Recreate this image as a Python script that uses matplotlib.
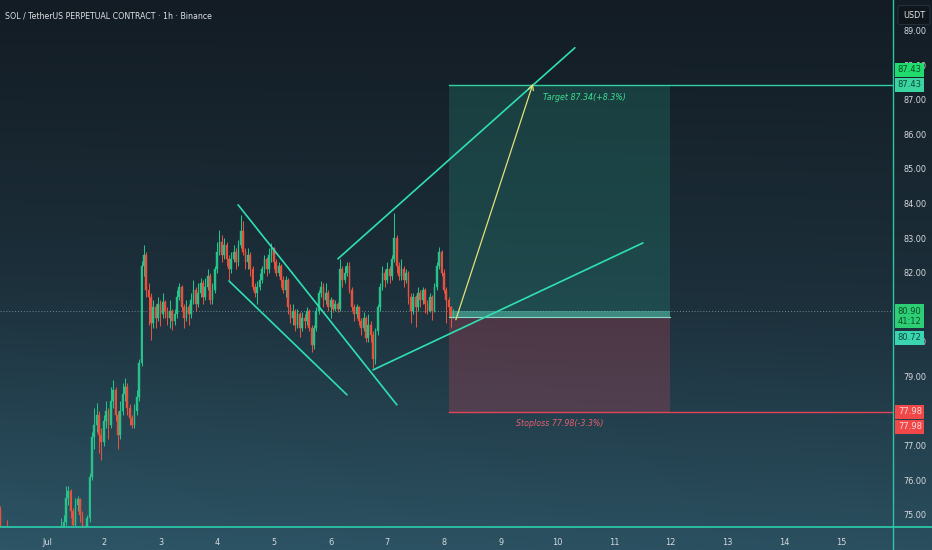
import numpy as np
import matplotlib
matplotlib.use('Agg')
import matplotlib.pyplot as plt
from matplotlib.colors import LinearSegmentedColormap
from matplotlib.lines import Line2D
from matplotlib import font_manager

# ---------------- data ----------------
title = "SOL / TetherUS PERPETUAL CONTRACT · 1h · Binance"
start_hour = -20          # first candle: hours relative to Jul 1 00:00
first_open = 75.15
closes = [74.3, 74.1, 74.35, 74.2, 73.9, 73.7, 73.95, 73.6, 73.4, 73.7,
          73.5, 73.3, 73.6, 73.8, 73.6, 73.9, 74.1, 73.8, 74.0, 74.2,
          73.9, 74.1, 74.3, 74.0, 74.2, 74.4, 74.5, 74.8, 75.5, 75.7,
          75.1, 74.7, 75.3, 75.45, 75.0, 74.6, 74.4, 74.9, 76.1, 77.25,
          77.6, 77.9, 77.3, 77.1, 77.7, 78.0, 77.6, 78.3, 78.6, 77.9,
          77.3, 78.0, 78.5, 78.7, 78.1, 77.8, 77.6, 78.0, 78.4, 79.4,
          82.2, 82.5, 81.5, 81.3, 80.55, 81.0, 80.7, 81.1, 80.8, 81.15,
          80.9, 80.7, 80.9, 80.6, 80.8, 81.3, 81.6, 81.0, 80.7, 81.0,
          80.8, 81.2, 81.5, 81.1, 81.4, 81.7, 81.3, 81.6, 81.9, 81.2,
          81.5, 82.1, 82.6, 82.9, 82.5, 82.8, 82.4, 82.1, 82.4, 82.6,
          82.3, 82.8, 83.2, 82.6, 82.3, 82.5, 82.1, 81.6, 81.4, 81.6,
          81.8, 82.1, 82.4, 82.1, 82.5, 82.7, 82.3, 82.0, 82.2, 81.8,
          81.5, 81.8, 81.0, 80.7, 80.9, 80.5, 80.8, 80.4, 80.7, 80.6,
          80.9, 80.4, 79.9, 80.4, 80.9, 81.4, 81.6, 81.2, 81.4, 81.0,
          81.2, 80.95, 81.1, 80.95, 82.1, 81.8, 82.0, 82.2, 81.5, 81.0,
          80.8, 81.0, 80.6, 80.4, 80.7, 80.1, 80.5, 80.2, 79.5, 80.3,
          81.0, 81.6, 82.0, 81.8, 82.1, 81.9, 82.4, 83.0, 82.2, 81.9,
          82.1, 81.8, 82.0, 81.3, 80.9, 81.3, 81.0, 81.4, 81.2, 81.5,
          81.1, 80.9, 81.3, 80.9, 81.6, 82.2, 82.6, 82.0, 81.5, 81.2,
          81.0, 80.72, 80.9]
highs = [75.25, 74.45, 74.5, 74.85, 74.3, 74.0, 74.1, 74.0, 73.7, 73.8,
         73.8, 73.6, 73.75, 74.0, 73.9, 74.1, 74.3, 74.2, 74.2, 74.4,
         74.3, 74.3, 74.5, 74.4, 74.45, 74.55, 74.9, 75.0, 75.84, 75.84,
         75.75, 75.2, 75.5, 75.55, 75.5, 75.1, 74.7, 75.0, 76.2, 77.4,
         78.1, 78.24, 78.0, 77.5, 77.9, 78.3, 78.1, 78.7, 78.9, 78.7,
         78.0, 78.3, 78.8, 78.95, 78.8, 78.2, 77.9, 78.2, 78.6, 79.5,
         82.35, 82.8, 82.6, 81.7, 81.4, 81.2, 81.1, 81.3, 81.2, 81.4,
         81.2, 81.0, 81.2, 80.95, 80.95, 81.5, 81.7, 81.65, 81.1, 81.2,
         81.1, 81.4, 81.8, 81.6, 81.7, 81.85, 81.8, 81.85, 82.1, 82.0,
         81.7, 82.2, 82.9, 83.24, 83.1, 83.0, 82.9, 82.5, 82.6, 82.8,
         82.7, 82.95, 83.67, 83.5, 82.7, 82.7, 82.6, 82.2, 81.7, 81.75,
         82.0, 82.2, 82.5, 82.45, 82.7, 82.85, 82.75, 82.4, 82.3, 82.25,
         81.9, 81.9, 81.85, 81.1, 81.1, 80.95, 80.95, 80.85, 80.85, 80.8,
         81.0, 80.95, 80.5, 80.5, 81.0, 81.5, 81.75, 81.7, 81.7, 81.5,
         81.3, 81.25, 81.2, 81.15, 82.4, 82.2, 82.2, 82.3, 82.3, 81.6,
         81.1, 81.1, 81.05, 80.7, 80.85, 80.75, 80.8, 80.6, 80.3, 80.4,
         81.1, 81.7, 82.2, 82.1, 82.3, 82.2, 82.5, 83.73, 83.1, 82.3,
         82.4, 82.2, 82.1, 82.05, 81.4, 81.4, 81.35, 81.6, 81.5, 81.6,
         81.55, 81.2, 81.4, 81.35, 81.7, 82.3, 82.75, 82.65, 82.1, 81.6,
         81.3, 81.05, 80.95]
lows = [74.1, 73.9, 74.0, 74.0, 73.7, 73.5, 73.6, 73.4, 73.2, 73.3,
        73.3, 73.1, 73.2, 73.5, 73.4, 73.5, 73.8, 73.6, 73.7, 73.9,
        73.7, 73.8, 74.0, 73.8, 73.9, 74.1, 74.2, 74.4, 74.7, 75.3,
        74.9, 74.5, 74.6, 75.1, 74.8, 74.4, 74.2, 74.3, 74.8, 76.0,
        76.9, 77.4, 76.8, 76.6, 77.0, 77.5, 77.2, 77.5, 78.1, 77.7,
        76.9, 77.2, 77.9, 78.3, 77.9, 77.6, 77.5, 77.5, 77.9, 78.3,
        79.3, 81.9, 81.3, 80.5, 80.06, 80.4, 80.4, 80.6, 80.45, 80.7,
        80.7, 80.5, 80.4, 80.35, 80.5, 80.7, 81.2, 80.9, 80.4, 80.6,
        80.5, 80.7, 81.1, 80.9, 81.0, 81.3, 81.1, 81.2, 81.5, 81.1,
        81.1, 81.4, 82.0, 82.5, 82.3, 82.4, 82.2, 81.8, 82.0, 82.3,
        82.1, 82.2, 82.7, 82.5, 82.1, 82.1, 81.9, 81.5, 81.3, 81.1,
        81.5, 81.7, 82.0, 81.9, 82.0, 82.3, 82.1, 81.9, 81.9, 81.6,
        81.4, 81.3, 80.8, 80.55, 80.5, 80.3, 80.4, 80.14, 80.3, 80.4,
        80.5, 80.3, 79.7, 79.8, 80.3, 80.8, 81.3, 81.0, 81.1, 80.9,
        80.7, 80.85, 80.9, 80.85, 80.9, 81.6, 81.7, 81.9, 81.4, 80.9,
        80.6, 80.7, 80.5, 80.2, 80.3, 80.0, 80.0, 80.0, 79.25, 79.35,
        80.2, 80.9, 81.5, 81.6, 81.7, 81.7, 81.8, 82.3, 82.0, 81.8,
        81.8, 81.6, 81.7, 81.1, 80.55, 80.8, 80.43, 80.9, 81.0, 81.1,
        80.84, 80.8, 80.85, 80.64, 80.85, 81.5, 82.1, 81.9, 81.4, 80.55,
        80.8, 80.43, 80.7]

day_ticks = list(range(15))
day_labels = ['Jul'] + [str(d) for d in range(2, 16)]
price_ticks = [75, 76, 77, 79, 80, 82, 83, 84, 85, 86, 87, 88, 89]

entry_price = 80.72
target_price = 87.43
stop_price = 77.98
last_price = 80.90
countdown = "41:12"
trade_days = [7.09, 10.99]

flag_upper = ([3.37, 6.17], [83.96, 78.18])
flag_lower = ([3.21, 5.29], [81.76, 78.47])
rise_upper = ([5.13, 9.31], [82.40, 88.50])
rise_lower = ([5.75, 10.51], [79.19, 82.86])
arrow_path = ([7.21, 8.57], [80.64, 87.46])
target_text = "Target 87.34(+8.3%)"
target_text_pos = (9.47, 87.05)
stop_text = "Stoploss 77.98(-3.3%)"
stop_text_pos = (9.05, 77.63)

# ---------------- fonts ----------------
_names = {f.name for f in font_manager.fontManager.ttflist}
if 'Liberation Sans Narrow' in _names:
    FAM = ['Liberation Sans Narrow', 'DejaVu Sans']
    SC = 1.0
else:
    FAM = ['DejaVu Sans']
    SC = 0.78
plt.rcParams['font.family'] = FAM

# ---------------- figure ----------------
W, H = 932, 550
fig = plt.figure(figsize=(W / 100, H / 100), dpi=100)

# background gradient
bg = fig.add_axes([0, 0, 1, 1], zorder=-10)
cmap = LinearSegmentedColormap.from_list('bg', ['#131c24', '#1c2f3a', '#2d5566'])
yy = np.linspace(0, 1, 300)[:, None]
xx = np.linspace(0, 1, 300)[None, :]
grad = np.clip(yy * 0.9 + (1 - xx) * 0.08 * yy, 0, 1)
bg.imshow(grad, cmap=cmap, aspect='auto', extent=[0, 1, 0, 1], origin='upper')
bg.set_axis_off()

plot_right = 893 / W
plot_bottom = (H - 527) / H
ax = fig.add_axes([0, plot_bottom, plot_right, 1 - plot_bottom])
ax.patch.set_alpha(0)
ax.set_xlim(-0.829, 14.92)
ax.set_ylim(74.65, 89.88)

# candles
closes_a = np.array(closes)
opens_a = np.concatenate([[first_open], closes_a[:-1]])
t = (np.arange(len(closes_a)) + start_hour) / 24.0
up = closes_a >= opens_a
green, red = '#27c28a', '#e5533f'
cols = np.where(up, green, red)
ax.vlines(t, lows, highs, colors=cols, linewidth=0.75, zorder=3)
body_bottom = np.minimum(opens_a, closes_a)
body_h = np.maximum(np.abs(closes_a - opens_a), 0.03)
ax.bar(t, body_h, bottom=body_bottom, width=0.03, color=cols, edgecolor=cols,
       linewidth=0.3, zorder=4)

# current price dotted line
ax.axhline(last_price, color='#6d8a96', lw=0.7, ls=(0, (1, 2)), zorder=2)

# trade box
ax.fill_between(trade_days, entry_price, target_price, color='#2aa88f', alpha=0.22, lw=0, zorder=1)
ax.fill_between(trade_days, stop_price, entry_price, color='#c8445a', alpha=0.28, lw=0, zorder=1)
ax.fill_between(trade_days, entry_price, last_price, color='#5fd6bb', alpha=0.45, lw=0, zorder=2)
ax.plot([trade_days[0], 14.92], [target_price, target_price], color='#2ed3a0', lw=1.0, zorder=5)
ax.plot([trade_days[0], 14.92], [stop_price, stop_price], color='#e0455a', lw=1.0, zorder=5)
ax.plot(trade_days, [entry_price, entry_price], color='#8fd8c8', lw=0.8, zorder=5)

# pattern lines
line_col = '#2ee0b2'
for xs, ys in (flag_upper, flag_lower, rise_upper, rise_lower):
    ax.plot(xs, ys, color=line_col, lw=1.2, zorder=6, solid_capstyle='round')
ax.annotate('', xy=(arrow_path[0][1], arrow_path[1][1]),
            xytext=(arrow_path[0][0], arrow_path[1][0]),
            arrowprops=dict(arrowstyle='->', color='#e6e07a', lw=0.9,
                            mutation_scale=9, shrinkA=0, shrinkB=0), zorder=7)

ax.text(*target_text_pos, target_text, color='#3fe092', fontsize=7.3 * SC, style='italic',
        ha='center', va='center', zorder=8)
ax.text(*stop_text_pos, stop_text, color='#e85d6f', fontsize=7.3 * SC, style='italic',
        ha='center', va='center', zorder=8)

# axes styling
for s in ax.spines.values():
    s.set_visible(False)
ax.set_xticks(day_ticks)
ax.set_xticklabels(day_labels)
ax.yaxis.tick_right()
ax.set_yticks(price_ticks)
ax.set_yticklabels([f"{p:.2f}" for p in price_ticks])
ax.tick_params(axis='both', length=0, colors='#d6dbe0', labelsize=7.5 * SC)
ax.tick_params(axis='x', pad=8)
ax.tick_params(axis='y', pad=7.5)

# axis border lines (full figure span)
fig.add_artist(Line2D([0, 1], [plot_bottom, plot_bottom], color='#2cc6a6', lw=1.3))
fig.add_artist(Line2D([plot_right, plot_right], [0, 1], color='#2cc6a6', lw=1.0))

# title
fig.text(5 / W, 1 - 16 / H, title, color='#dde1e5', fontsize=7.3 * SC, va='center', ha='left')

# USDT box
fig.text(914 / W, 1 - 15 / H, 'USDT', color='#e6e9ec', fontsize=7.5 * SC, ha='center', va='center',
         bbox=dict(boxstyle='round,pad=0.6,rounding_size=0.25', fc='#10171c', ec='#2a3640', lw=0.6),
         zorder=20)

# price badges
def badge(price, text, fc, tc, dy_px):
    ax.annotate(text, xy=(1, price), xycoords=('axes fraction', 'data'),
                xytext=(3.5, -dy_px * 0.72), textcoords='offset points',
                ha='left', va='center', fontsize=7.7 * SC, color=tc, linespacing=1.15,
                bbox=dict(boxstyle='square,pad=0.3', fc=fc, ec='none'),
                annotation_clip=False, zorder=20)

badge(target_price, f"{target_price:.2f}", '#1fdc6c', '#0d4a2a', -15)
badge(target_price, f"{target_price:.2f}", '#3bd4a0', '#0d4a3a', 0)
badge(last_price, f"{last_price:.2f}\n{countdown}", '#2ccf74', '#0d4a2a', 5.5)
badge(entry_price, f"{entry_price:.2f}", '#3bd4b0', '#0d4a3a', 21)
badge(stop_price, f"{stop_price:.2f}", '#f04848', '#ffd8d8', 0)
badge(stop_price, f"{stop_price:.2f}", '#f04848', '#ffd8d8', 15)

fig.savefig('out.png', dpi=100)
